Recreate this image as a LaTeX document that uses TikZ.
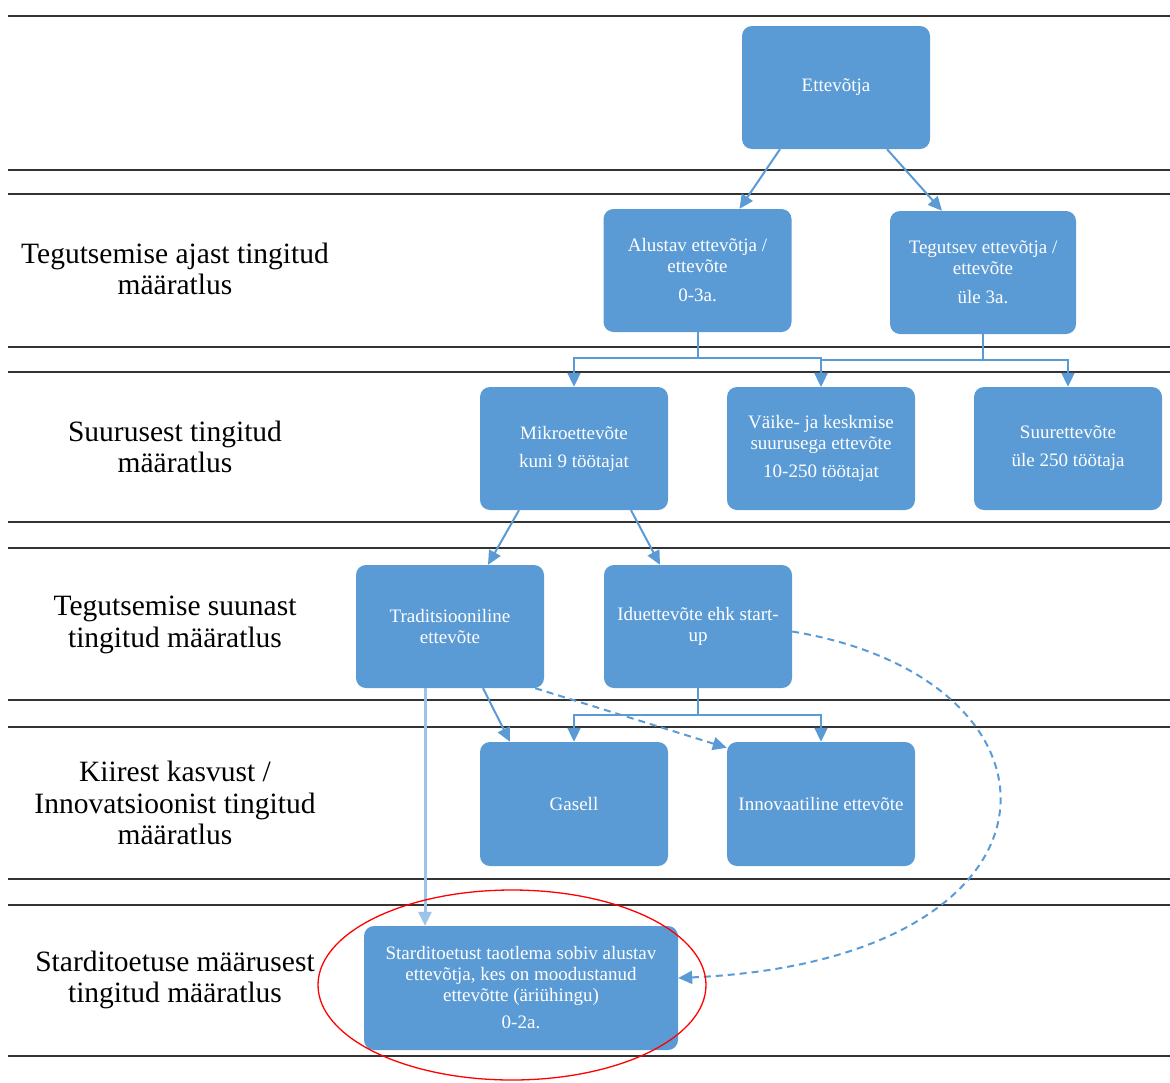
\documentclass[tikz,border=0pt]{standalone}
\usepackage{fontspec}
\setmainfont{Liberation Serif}
\usetikzlibrary{arrows.meta,calc}
\definecolor{boxblue}{HTML}{5B9BD5}
\definecolor{connblue}{HTML}{5B9BD5}
\definecolor{lightconn}{HTML}{9DC3E6}
\definecolor{rulegray}{HTML}{333333}
\begin{document}
\begin{tikzpicture}[x=1pt,y=-1pt,
  bx/.style={rectangle, rounded corners=10pt, fill=boxblue, text=white,
    minimum width=188pt, minimum height=123pt, inner sep=3pt, align=center,
    font=\fontsize{19}{21}\selectfont},
  lbl/.style={align=center, font=\fontsize{29.5}{31.5}\selectfont, text=black, inner sep=0pt},
  rulel/.style={draw=rulegray, line width=2.2pt},
  conn/.style={draw=connblue, line width=2pt, -{Triangle[length=14pt,width=13pt]}},
  dconn/.style={conn, dash pattern=on 7pt off 5pt},
  lconn/.style={conn, draw=lightconn, line width=3pt},
]
\useasboundingbox (0,0) rectangle (1170,1082);

% horizontal rules
\foreach \yy in {16,170,194,347,372,522,548,700,727,879,905,1056}
  \draw[rulel] (8,\yy) -- (1170,\yy);

% left labels
\node[lbl] (l1) at (175,269) {Tegutsemise ajast tingitud\\määratlus};
\node[lbl] (l2) at (175,447) {Suurusest tingitud\\määratlus};
\node[lbl] (l3) at (175,625) {Tegutsemise suunast\\tingitud määratlus};
\node[lbl] (l4) at (175,803) {Kiirest kasvust /\\Innovatsioonist tingitud\\määratlus};
\node[lbl] (l5) at (175,980) {Starditoetuse määrusest\\tingitud määratlus};

% boxes
\node[bx] (ent) at (836,87.5) {Ettevõtja};
\node[bx] (alu) at (697.5,270.5) {Alustav ettevõtja /\\ettevõte\\[8pt]0-3a.};
\node[bx, minimum width=186pt] (teg) at (983,272.5) {Tegutsev ettevõtja /\\ettevõte\\[8pt]üle 3a.};
\node[bx] (mikro) at (574,448.5) {Mikroettevõte\\[7pt]kuni 9 töötajat};
\node[bx] (vaike) at (821,448.5) {Väike- ja keskmise\\suurusega ettevõte\\[7pt]10-250 töötajat};
\node[bx] (suur) at (1068,448.5) {Suurettevõte\\[7pt]üle 250 töötaja};
\node[bx] (trad) at (450,626.5) {Traditsiooniline\\ettevõte};
\node[bx] (idu) at (698,626.5) {Iduettevõte ehk start-\\up};
\node[bx, minimum height=124pt] (gas) at (574,804) {Gasell};
\node[bx, minimum height=124pt] (inn) at (821,804) {Innovaatiline ettevõte};
\node[bx, minimum width=314pt, minimum height=124pt] (start) at (521,988)
  {Starditoetust taotlema sobiv alustav\\ettevõtja, kes on moodustanud\\ettevõtte (äriühingu)\\[6pt]0-2a.};

% connectors
\draw[conn] ($(ent.south)+(-56,0)$) -- ($(alu.north)+(42,0)$);
\draw[conn] ($(ent.south)+(51,0)$) -- ($(teg.north)+(-41,0)$);

\draw[conn] (alu.south) -- ++(0,26) -| (mikro.north);
\draw[conn] (alu.south) -- ++(0,26) -| (vaike.north);
\draw[conn] (teg.south) -- ++(0,26) -| (vaike.north);
\draw[conn] (teg.south) -- ++(0,26) -| (suur.north);

\draw[conn] ($(mikro.south)+(-55,0)$) -- ($(trad.north)+(38,0)$);
\draw[conn] ($(mikro.south)+(57,0)$) -- ($(idu.north)+(-38,0)$);

\coordinate (tr1) at ($(trad.south)+(-25,0)$);
\draw[lconn] (tr1) -- (tr1 |- start.north);
\draw[conn] ($(trad.south)+(33,0)$) -- ($(gas.north)+(-64,0)$);
\draw[dconn] ($(trad.south east)+(-9,0)$) -- ($(inn.north west)+(0,6)$);

\draw[conn] (idu.south) -- ++(0,27) -| (gas.north);
\draw[conn] (idu.south) -- ++(0,27) -| (inn.north);

\draw[dconn] ($(idu.east)+(0,5)$) .. controls (1085,680) and (1085,960) .. ($(start.east)+(0,-10)$);

% highlight
\draw[red, line width=1.3pt] (512,985) ellipse [x radius=194pt, y radius=95pt];
\end{tikzpicture}
\end{document}
